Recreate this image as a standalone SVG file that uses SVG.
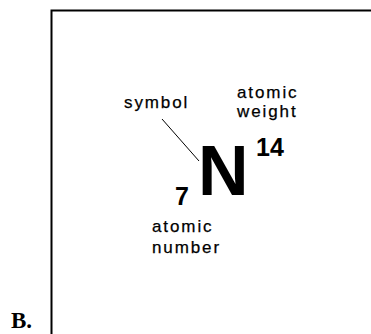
<svg xmlns="http://www.w3.org/2000/svg" width="371" height="334" viewBox="0 0 371 334">
<style>
.lbl{font-family:"Liberation Sans",Arial,sans-serif;font-size:17px;letter-spacing:1.9px;fill:#000;stroke:#000;stroke-width:0.25}
.num{font-family:"Liberation Sans",Arial,sans-serif;font-weight:bold;font-size:25px;fill:#000}
.sym{font-family:"Liberation Sans",Arial,sans-serif;font-weight:bold;font-size:70px;fill:#000}
</style>
<rect width="371" height="334" fill="#fff"/>
<g id="frame">
<path d="M51.5,334 V10.5 H371" fill="none" stroke="#000" stroke-width="2"/>
</g>
<g id="panel-label">
<text x="11" y="328" font-family="Liberation Serif,'Times New Roman',serif" font-weight="bold" font-size="23">B.</text>
</g>
<g id="element">
<text class="sym" x="198" y="195">N</text>
<text class="num" x="256" y="156">14</text>
<text class="num" x="175" y="205">7</text>
</g>
<g id="symbol-label">
<text class="lbl" x="124" y="108">symbol</text>
</g>
<g id="weight-label">
<text class="lbl" x="237" y="98">atomic</text>
<text class="lbl" x="237" y="117">weight</text>
</g>
<g id="number-label">
<text class="lbl" x="152" y="232">atomic</text>
<text class="lbl" x="152" y="253">number</text>
</g>
<g id="connectors">
<line x1="162" y1="119" x2="199" y2="161" stroke="#000" stroke-width="1"/>
</g>
</svg>
